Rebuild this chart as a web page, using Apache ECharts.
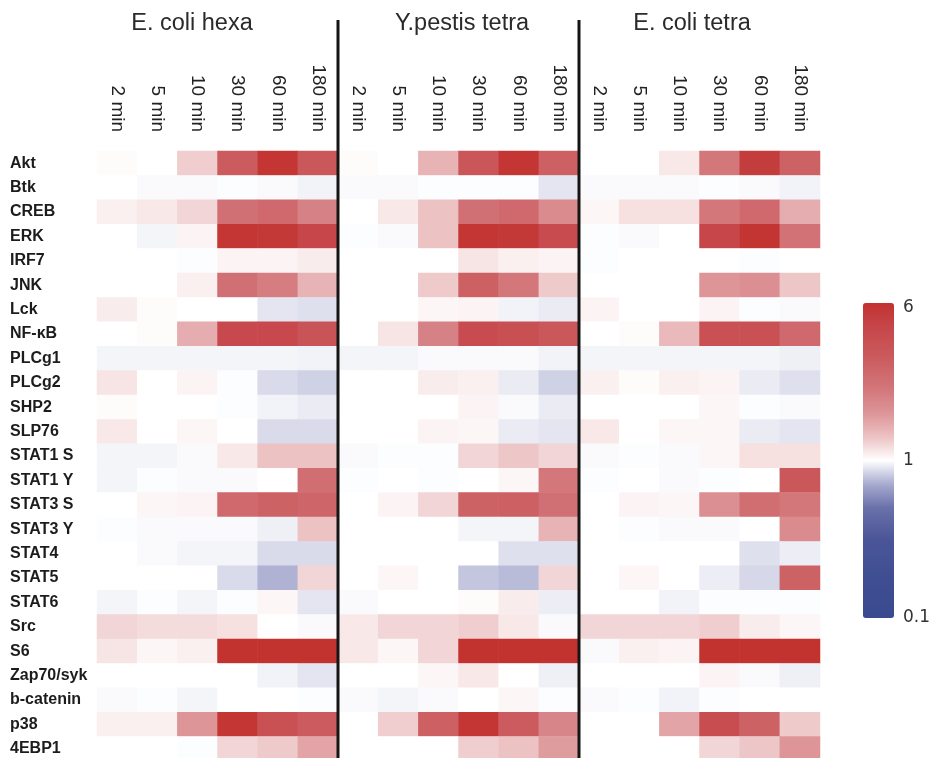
<!DOCTYPE html>
<html>
<head>
<meta charset="utf-8">
<script src="https://cdn.jsdelivr.net/npm/echarts@6/dist/echarts.min.js"></script>
<style>
  html, body { margin: 0; padding: 0; background: #ffffff; }
  #chart { width: 935px; height: 758px; }
</style>
</head>
<body>
<div id="chart"></div>
<script>
// Stimulation groups and time points
const groupNames = ['E. coli hexa', 'Y.pestis tetra', 'E. coli tetra'];
const timeLabels = ['2 min', '5 min', '10 min', '30 min', '60 min', '180 min'];
const proteins = ['Akt', 'Btk', 'CREB', 'ERK', 'IRF7', 'JNK', 'Lck', 'NF-\u03baB', 'PLCg1', 'PLCg2',
  'SHP2', 'SLP76', 'STAT1 S', 'STAT1 Y', 'STAT3 S', 'STAT3 Y', 'STAT4', 'STAT5', 'STAT6',
  'Src', 'S6', 'Zap70/syk', 'b-catenin', 'p38', '4EBP1'];

// Fold change vs. unstimulated, one row per protein, one column per time point
const ecoliHexa = [
  [1.02, 1.00, 1.24, 3.20, 5.69, 3.38],
  [1.00, 0.98, 0.98, 0.99, 0.98, 0.95],
  [1.07, 1.11, 1.20, 2.45, 2.68, 2.05],
  [1.00, 0.96, 1.05, 5.69, 5.49, 4.59],
  [1.00, 1.00, 0.99, 1.05, 1.05, 1.09],
  [1.00, 1.00, 1.07, 2.45, 2.12, 1.43],
  [1.09, 1.02, 1.00, 1.00, 0.90, 0.88],
  [1.00, 1.02, 1.48, 4.35, 4.35, 3.63],
  [0.96, 0.96, 0.96, 0.96, 0.96, 0.95],
  [1.13, 1.00, 1.05, 0.99, 0.86, 0.83],
  [1.02, 1.00, 1.00, 0.99, 0.95, 0.92],
  [1.11, 1.00, 1.04, 1.00, 0.86, 0.86],
  [0.96, 0.96, 0.98, 1.11, 1.31, 1.31],
  [0.96, 0.99, 0.98, 0.98, 1.00, 2.54],
  [1.00, 1.04, 1.05, 2.68, 2.93, 2.83],
  [0.99, 0.98, 0.98, 0.98, 0.94, 1.31],
  [1.00, 0.98, 0.96, 0.96, 0.86, 0.86],
  [1.00, 1.00, 1.00, 0.86, 0.73, 1.20],
  [0.96, 0.99, 0.96, 0.99, 1.04, 0.90],
  [1.20, 1.17, 1.17, 1.15, 1.00, 0.98],
  [1.13, 1.04, 1.07, 6.00, 6.00, 6.00],
  [1.00, 1.00, 1.00, 1.00, 0.95, 0.90],
  [0.98, 0.99, 0.96, 1.00, 1.00, 0.99],
  [1.07, 1.07, 1.71, 5.69, 3.83, 3.20],
  [1.00, 1.00, 0.99, 1.20, 1.26, 1.57]
];
const ypestisTetra = [
  [1.02, 1.00, 1.43, 3.51, 5.69, 3.04],
  [0.98, 0.98, 0.99, 0.99, 0.99, 0.90],
  [1.00, 1.11, 1.31, 2.45, 2.68, 1.87],
  [0.99, 0.98, 1.31, 5.69, 5.49, 4.19],
  [1.00, 1.00, 1.00, 1.13, 1.07, 1.05],
  [1.00, 1.00, 1.26, 3.04, 2.24, 1.26],
  [1.00, 1.00, 1.04, 1.05, 0.95, 0.92],
  [1.00, 1.13, 2.05, 4.19, 3.97, 3.38],
  [0.96, 0.96, 0.98, 0.98, 0.98, 0.95],
  [1.00, 1.00, 1.09, 1.07, 0.92, 0.83],
  [1.00, 1.00, 1.00, 1.05, 0.98, 0.92],
  [1.00, 1.00, 1.05, 1.04, 0.92, 0.90],
  [0.98, 0.99, 0.99, 1.20, 1.28, 1.20],
  [0.99, 1.00, 0.99, 1.00, 1.04, 2.24],
  [1.00, 1.05, 1.20, 2.93, 3.04, 2.45],
  [1.00, 1.00, 1.00, 0.96, 0.96, 1.43],
  [1.00, 1.00, 1.00, 1.00, 0.88, 0.88],
  [1.00, 1.04, 1.00, 0.79, 0.76, 1.20],
  [0.98, 1.00, 1.00, 1.02, 1.09, 0.93],
  [1.11, 1.20, 1.20, 1.24, 1.11, 0.98],
  [1.11, 1.04, 1.20, 6.00, 6.00, 6.00],
  [1.00, 1.00, 1.04, 1.11, 1.00, 0.94],
  [0.98, 0.96, 0.98, 1.00, 1.04, 0.99],
  [1.00, 1.24, 3.04, 5.69, 3.20, 1.98],
  [1.00, 1.00, 1.00, 1.24, 1.31, 1.65]
];
const ecoliTetra = [
  [1.00, 1.00, 1.11, 2.24, 5.20, 2.93],
  [0.98, 0.98, 0.98, 0.99, 0.98, 0.95],
  [1.04, 1.15, 1.15, 2.24, 2.68, 1.48],
  [0.99, 0.98, 1.00, 4.59, 5.78, 2.36],
  [0.99, 1.00, 1.00, 1.00, 0.99, 1.00],
  [1.00, 1.00, 1.00, 1.71, 1.81, 1.28],
  [1.05, 1.00, 1.00, 1.05, 0.99, 0.98],
  [1.00, 1.02, 1.38, 3.83, 3.83, 2.68],
  [0.96, 0.96, 0.96, 0.96, 0.96, 0.94],
  [1.07, 1.02, 1.07, 1.05, 0.92, 0.88],
  [1.00, 1.00, 1.00, 1.04, 0.99, 0.98],
  [1.11, 1.00, 1.04, 1.04, 0.92, 0.90],
  [0.98, 0.99, 0.98, 1.04, 1.15, 1.15],
  [0.99, 1.00, 0.98, 0.99, 1.00, 3.38],
  [1.00, 1.05, 1.04, 1.81, 2.54, 2.24],
  [1.00, 0.99, 0.98, 0.98, 1.00, 1.87],
  [1.00, 1.00, 1.00, 1.00, 0.88, 0.93],
  [1.00, 1.04, 1.00, 0.93, 0.85, 2.93],
  [1.00, 1.00, 0.95, 0.99, 0.99, 0.99],
  [1.20, 1.20, 1.20, 1.24, 1.09, 1.04],
  [0.98, 1.07, 1.05, 6.00, 6.00, 6.00],
  [1.00, 1.00, 1.00, 1.05, 0.98, 0.94],
  [0.98, 0.99, 0.95, 0.99, 1.00, 1.00],
  [1.00, 1.00, 1.57, 4.05, 2.93, 1.26],
  [1.00, 1.00, 1.00, 1.20, 1.28, 1.71]
];
const colorTicks = [6, 1, 0.1];

// ---- scale: log fold change, 0.1..1 mapped to [-1,0], 1..6 mapped to [0,1] ----
const SCALE_MIN = 0.1, SCALE_MAX = 6;
function toScale(v) {
  const t = v >= 1 ? Math.log(v) / Math.log(SCALE_MAX) : -Math.log(v) / Math.log(SCALE_MIN);
  return Math.max(-1, Math.min(1, t));
}

// Diverging palette (blue - white - red) sampled into an evenly spaced list
const paletteStops = [
  [-1, '#3a4a8f'], [-0.75, '#3f4e92'], [-0.5, '#4b5698'], [-0.3, '#6a71aa'], [-0.15, '#a7abcf'],
  [0, '#ffffff'],
  [0.15, '#ecc2c3'], [0.3, '#dd9598'], [0.45, '#d3777b'], [0.65, '#cb5b5e'], [0.85, '#c6464a'], [1, '#c2322f']
];
function hexToRgb(h) { return [1, 3, 5].map(i => parseInt(h.substr(i, 2), 16)); }
function paletteAt(t) {
  for (let i = 1; i < paletteStops.length; i++) {
    const [t1, c1] = paletteStops[i];
    const [t0, c0] = paletteStops[i - 1];
    if (t <= t1) {
      const f = (t - t0) / (t1 - t0);
      const a = hexToRgb(c0), b = hexToRgb(c1);
      return 'rgb(' + a.map((x, k) => Math.round(x + (b[k] - x) * f)).join(',') + ')';
    }
  }
  return paletteStops[paletteStops.length - 1][1];
}
const paletteList = [];
for (let i = 0; i <= 80; i++) paletteList.push(paletteAt(-1 + i / 40));

// ---- build heatmap cells ----
const groups = [ecoliHexa, ypestisTetra, ecoliTetra];
const xCategories = [];
groups.forEach(() => timeLabels.forEach(t => xCategories.push(t)));
const cells = [];
groups.forEach((g, gi) => {
  g.forEach((row, ri) => {
    row.forEach((v, ti) => {
      cells.push([gi * timeLabels.length + ti, ri, toScale(v), v]);
    });
  });
});

// ---- layout ----
const GRID = { left: 97, top: 151, width: 723, height: 610 };
const BAR = { left: 863, top: 303, width: 31, height: 315 };
const titleX = [192, 462, 692];
const titleY = 24;

const chart = echarts.init(document.getElementById('chart'), null, { renderer: 'canvas' });

chart.setOption({
  animation: false,
  backgroundColor: '#ffffff',
  grid: {
    left: GRID.left, top: GRID.top, width: GRID.width, height: GRID.height,
    containLabel: false, outerBoundsMode: 'none'
  },
  xAxis: {
    type: 'category',
    position: 'top',
    data: xCategories,
    axisLine: { show: false },
    axisTick: { show: false },
    splitLine: { show: false },
    splitArea: { show: false },
    axisLabel: {
      interval: 0,
      rotate: 90,
      margin: 19,
      fontSize: 19,
      fontFamily: '"Liberation Sans", Arial, sans-serif',
      color: '#222222'
    }
  },
  yAxis: {
    type: 'category',
    inverse: true,
    data: proteins,
    axisLine: { show: false },
    axisTick: { show: false },
    splitLine: { show: false },
    splitArea: { show: false },
    axisLabel: {
      interval: 0,
      align: 'left',
      margin: 87,
      fontSize: 16,
      fontWeight: 'bold',
      fontFamily: '"Liberation Sans", Arial, sans-serif',
      color: '#1c1c1c'
    }
  },
  visualMap: {
    type: 'continuous',
    min: -1,
    max: 1,
    dimension: 2,
    seriesIndex: 0,
    calculable: false,
    hoverLink: false,
    orient: 'vertical',
    left: BAR.left,
    top: BAR.top,
    itemWidth: BAR.width,
    itemHeight: BAR.height,
    padding: 0,
    text: null,
    inRange: { color: paletteList }
  },
  series: [{
    type: 'heatmap',
    data: cells,
    progressive: 0,
    itemStyle: { borderWidth: 0 },
    emphasis: { disabled: true }
  }]
});

// ---- group separators, titles and colour bar tick labels ----
const colW = chart.convertToPixel({ xAxisIndex: 0 }, 1) - chart.convertToPixel({ xAxisIndex: 0 }, 0);
const graphics = [];
for (let gi = 1; gi < groupNames.length; gi++) {
  const x = chart.convertToPixel({ xAxisIndex: 0 }, gi * timeLabels.length) - colW / 2;
  graphics.push({
    type: 'line',
    z: 100,
    shape: { x1: x, y1: 20, x2: x, y2: 758 },
    style: { stroke: '#151515', lineWidth: 3 },
    silent: true
  });
}
groupNames.forEach((name, gi) => {
  graphics.push({
    type: 'text',
    z: 100,
    x: titleX[gi],
    y: titleY,
    style: {
      text: name,
      fontSize: 23.5,
      fontFamily: '"Liberation Sans", Arial, sans-serif',
      fill: '#2a2a2a',
      align: 'center', verticalAlign: 'middle',
      textAlign: 'center', textVerticalAlign: 'middle'
    },
    silent: true
  });
});
colorTicks.forEach(v => {
  const frac = (toScale(v) + 1) / 2;
  let y = BAR.top + (1 - frac) * BAR.height;
  y = Math.max(y, BAR.top + 5);
  graphics.push({
    type: 'text',
    z: 100,
    x: BAR.left + BAR.width + 9,
    y: y,
    style: {
      text: String(v),
      fontSize: 17,
      fontFamily: '"DejaVu Sans", sans-serif',
      fill: '#333333',
      align: 'left', verticalAlign: 'middle',
      textAlign: 'left', textVerticalAlign: 'middle'
    },
    silent: true
  });
});
chart.setOption({ graphic: graphics });
</script>
</body>
</html>
